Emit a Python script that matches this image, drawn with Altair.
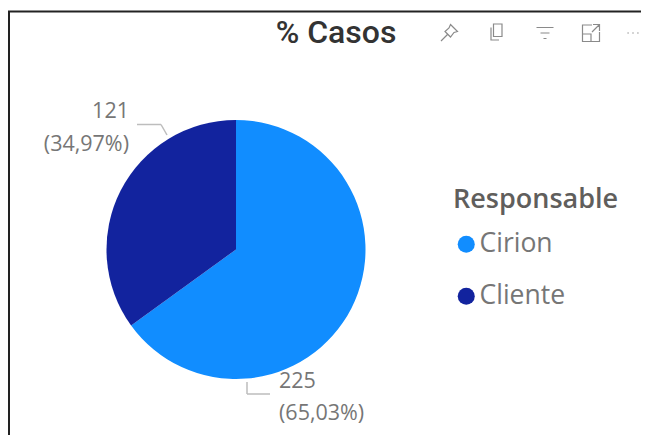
import altair as alt
import pandas as pd

categories = ["Cirion", "Cliente"]
counts = [225, 121]
shares = ["(65,03%)", "(34,97%)"]
colors = ["#118DFF", "#12239E"]
title_text = "% Casos"
legend_title = "Responsable"

df = pd.DataFrame({"Responsable": categories, "n": counts, "order": [0, 1]})

W, H = 633, 427
CX, CY, R = 228, 241.5, 129.5
LABEL_FONT = "Open Sans"
GREY = "#767676"


def ruled(x1, y1, x2, y2, color, width=1.0):
    return alt.Chart(pd.DataFrame({"a": [0]})).mark_rule(
        color=color, strokeWidth=width
    ).encode(x=alt.value(x1), y=alt.value(y1), x2=alt.value(x2), y2=alt.value(y2))


def text(s, x, y, font=LABEL_FONT, size=21.5, color=GREY, align="left", weight="normal"):
    return alt.Chart(pd.DataFrame({"t": [s]})).mark_text(
        font=font, fontSize=size, color=color, align=align, baseline="middle", fontWeight=weight
    ).encode(x=alt.value(x), y=alt.value(y), text="t:N")


def icon(path, x, y, size=400, color="#8a8a8a"):
    return alt.Chart(pd.DataFrame({"a": [0]})).mark_point(
        shape=path, size=size, filled=False, color=color, strokeWidth=1.2, opacity=1
    ).encode(x=alt.value(x), y=alt.value(y))


pie = alt.Chart(df).mark_arc(outerRadius=R).encode(
    theta=alt.Theta("n:Q", stack=True, scale=alt.Scale(domain=[0, sum(counts)], range=[0, 6.28318530718])),
    order=alt.Order("order:Q"),
    color=alt.Color(
        "Responsable:N",
        scale=alt.Scale(domain=categories, range=colors),
        legend=alt.Legend(
            orient="none", legendX=445, legendY=179, title=legend_title,
            titleFont=LABEL_FONT, titleFontSize=27, titleFontWeight=600, titleColor="#605E5C",
            titlePadding=17, labelFont=LABEL_FONT, labelFontSize=26.5, labelColor=GREY,
            symbolType="circle", symbolSize=290, symbolStrokeWidth=0, labelOffset=0,
            rowPadding=25, padding=0,
        ),
    ),
    x=alt.value(CX),
    y=alt.value(CY),
)

layers = [
    ruled(0, 3.5, W, 3.5, "#222222", 2),
    ruled(1, 3, 1, H, "#222222", 2),
    pie,
    ruled(129, 116.5, 153, 116.5, "#BDBDBD", 1.5),
    ruled(153, 116.5, 159, 127, "#BDBDBD", 1.5),
    ruled(239, 374, 239, 386, "#BDBDBD", 1.5),
    ruled(239, 386, 262, 386, "#BDBDBD", 1.5),
    text(str(counts[1]), 121, 104, align="right"),
    text(shares[1], 121, 137, align="right"),
    text(str(counts[0]), 271, 374),
    text(shares[0], 271, 406),
    text(title_text, 328, 25, font="Roboto", size=32, color="#333333", align="center", weight=500),
    icon("M0.15,-0.85 L0.85,-0.15 L0.5,-0.05 L0.15,0.4 L-0.4,-0.15 L0,-0.5 Z M-0.15,0.15 L-0.8,0.8", 441, 25),
    icon("M-0.35,-0.8 H0.5 V0.45 H-0.35 Z M-0.6,-0.45 V0.8 H0.2", 489, 24),
    icon("M-0.85,-0.55 H0.85 M-0.45,0 H0.45 M-0.15,0.55 H0.15", 537, 25),
    icon("M0.1,-0.8 H-0.85 V0.85 H0 V0.1 H-0.85 M0,0.85 H0.85 V-0.1 M0.2,-0.85 H0.85 V-0.2 M0.85,-0.85 L0.1,-0.1", 583, 25),
    icon("M-0.8,0 H-0.6 M-0.1,0 H0.1 M0.6,0 H0.8", 625, 25, size=196),
]

chart = alt.layer(*layers).properties(
    width=W, height=H, padding=0, autosize=alt.AutoSizeParams(type="none"), background="white"
).configure_view(stroke=None).resolve_scale(color="independent")

chart.save("out.html", embed_options={"renderer": "svg", "actions": False})
